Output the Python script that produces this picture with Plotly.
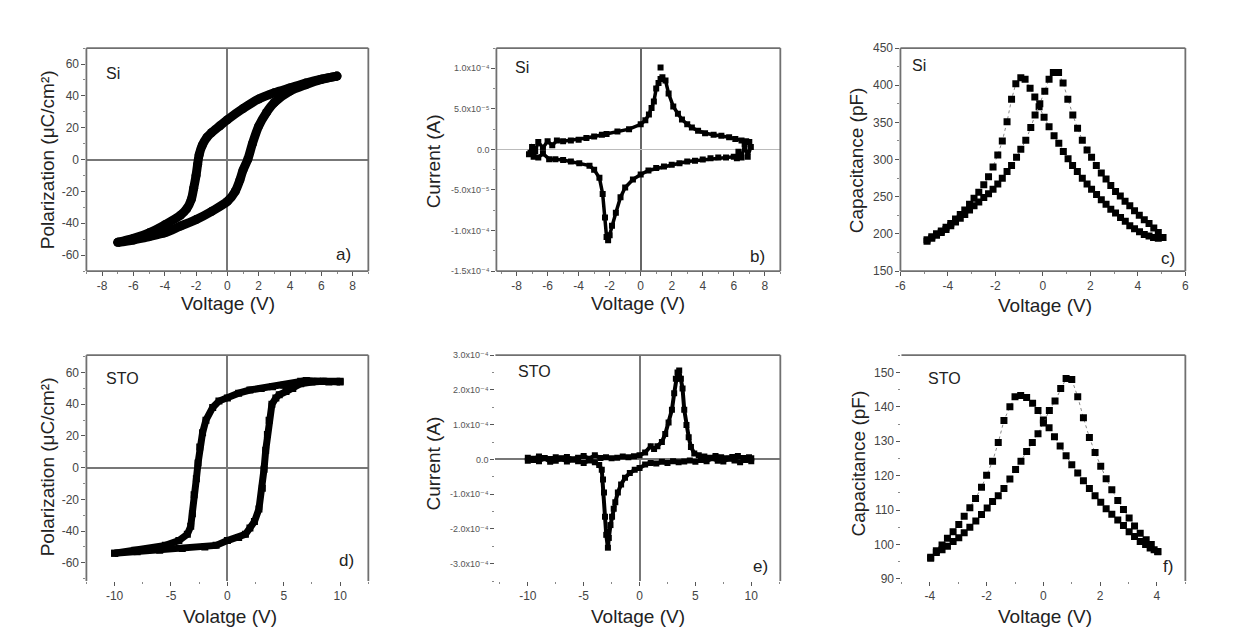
import plotly.graph_objects as go

W, H = 1238, 634
FONT = "Liberation Sans, Arial, DejaVu Sans, sans-serif"

# ---------------- data ----------------
# (a) Si polarization loop
a_down_v = [7.0, 6.0, 5.0, 4.0, 3.0, 2.0, 1.0, 0.0, -0.5, -1.0, -1.3, -1.6, -1.8, -1.9, -2.0, -2.15, -2.3, -2.6, -3.0, -4.0, -5.0, -6.0, -7.0]
a_down_p = [52.4, 50.5, 48, 45, 42, 38, 32, 25, 21, 17, 14, 9, 3, -3, -10, -18, -25, -31, -35, -41, -46, -49.5, -52]
a_up_v = [-7.0, -6.0, -5.0, -4.0, -3.0, -2.0, -1.0, 0.0, 0.5, 0.8, 1.0, 1.3, 1.6, 2.0, 2.5, 3.0, 4.0, 5.0, 6.0, 7.0]
a_up_p = [-52, -50.5, -48.4, -46, -41.8, -37.7, -32.5, -26.3, -20, -12.8, -6.6, 0, 10, 21, 29.6, 35.8, 43, 47, 50.3, 52.4]

# (b) Si current (units of 1e-5 A)
b_up_v = [-7.2, -7.0, -6.8, -6.6, -6.3, -6.0, -5.7, -5.4, -5.0, -4.5, -4.0, -3.5, -3.0, -2.5, -2.2, -1.5, -0.75, 0.0, 0.3,
          0.53, 0.7, 0.85, 1.0, 1.15, 1.28, 1.4, 1.6, 1.8, 2.1, 2.4, 2.66, 3.0, 3.3, 3.7, 4.15, 4.7, 5.2, 5.7, 6.1, 6.5, 6.8, 7.0]
b_up_i = [-0.6, 0.3, -0.2, 0.9, 0.2, 1.0, 0.5, 1.1, 1.0, 1.1, 1.2, 1.4, 1.6, 1.8, 1.9, 2.2, 2.5, 3.1, 3.6,
          4.3, 5.1, 5.9, 7.5, 8.2, 8.7, 8.9, 8.5, 6.9, 5.3, 4.4, 3.7, 3.1, 2.7, 2.3, 2.0, 1.8, 1.7, 1.5, 1.3, 1.1, 1.0, 0.9]
b_down_v = [7.1, 6.9, 6.7, 6.5, 6.3, 6.2, 6.0, 5.5, 5.0, 4.5, 4.0, 3.5, 3.0, 2.5, 2.0, 1.5, 1.0, 0.5, 0.0, -0.5, -1.0,
            -1.3, -1.6, -1.85, -2.0, -2.1, -2.2, -2.3, -2.45, -2.66, -3.0, -3.3, -3.96, -4.5, -5.0, -5.5, -5.9, -6.3, -6.6, -6.9, -7.1]
b_down_i = [0.3, -0.9, 0.6, -1.0, -0.3, -1.1, -0.9, -1.0, -1.0, -1.1, -1.25, -1.4, -1.5, -1.7, -1.9, -2.1, -2.3, -2.6, -3.1, -3.7, -4.7,
            -5.9, -7.8, -9.4, -10.6, -11.2, -10.8, -8.4, -5.5, -3.5, -2.5, -2.0, -1.7, -1.5, -1.3, -1.2, -1.2, -0.5, -1.0, -0.9, -0.4]
b_spike_v = [1.28]
b_spike_i = [10.1]

# (c) Si capacitance (pF)
c_a_v = [-4.88, -4.68, -4.48, -4.28, -4.08, -3.88, -3.68, -3.48, -3.29, -3.09, -2.90, -2.70, -2.49, -2.29, -2.10, -1.90, -1.71,
         -1.51, -1.32, -1.14, -0.93, -0.75, -0.54, -0.34, -0.16, 0.05, 0.26, 0.47, 0.67, 0.86, 1.06, 1.25, 1.45, 1.66, 1.86,
         2.05, 2.26, 2.46, 2.66, 2.86, 3.06, 3.27, 3.47, 3.66, 3.86, 4.07, 4.27, 4.47, 4.66, 4.86]
c_a_c = [192, 196, 200, 204, 209, 214, 220, 226, 232, 240, 248, 256, 266, 277, 290, 306, 325,
         351, 381, 402, 410, 408, 396, 384, 371, 357, 344, 332, 322, 311, 301, 292, 284, 275, 267,
         260, 253, 246, 240, 233, 228, 222, 217, 211, 207, 203, 199, 197, 195, 194]
c_b_v = [-4.88, -4.68, -4.48, -4.28, -4.08, -3.88, -3.68, -3.48, -3.29, -3.09, -2.90, -2.70, -2.49, -2.29, -2.10, -1.90, -1.71,
         -1.51, -1.32, -1.11, -0.93, -0.72, -0.51, -0.33, -0.13, 0.08, 0.26, 0.44, 0.66, 0.85, 1.05, 1.26, 1.46, 1.66, 1.86,
         2.05, 2.25, 2.46, 2.66, 2.86, 3.06, 3.26, 3.46, 3.66, 3.86, 4.06, 4.27, 4.47, 4.67, 4.86, 5.06]
c_b_c = [190, 194, 198, 202, 206, 211, 216, 221, 226, 232, 238, 243, 249, 254, 260, 267, 275,
         284, 292, 303, 314, 326, 343, 360, 375, 392, 408, 417, 417, 403, 381, 360, 342, 326, 313,
         303, 292, 282, 274, 265, 257, 251, 244, 238, 231, 225, 219, 214, 208, 202, 195]

# (d) STO polarization loop
d_down_v = [10, 9, 8, 7, 6.5, 6, 5, 4, 3, 2, 1, 0, -0.75, -1.3, -1.9, -2.2, -2.45, -2.6, -2.75, -2.95, -3.1, -3.25, -3.55,
            -4.3, -5.5, -7, -8.2, -10]
d_down_p = [54.5, 54, 54.5, 55, 54.5, 53, 52, 51, 50, 49, 47, 44, 42, 38, 30, 22, 13, 3, -7, -17, -29, -37, -42,
            -46, -49, -51, -52, -54]
d_up_v = [-10, -8, -6, -4, -2, -1, 0, 1, 1.6, 2.0, 2.4, 2.8, 3.1, 3.25, 3.4, 3.55, 3.7, 3.95, 4.3, 4.6, 5.2, 5.8, 6.5,
          7.5, 8.5, 10]
d_up_p = [-54, -53, -52, -51, -50, -49, -46, -44, -42, -38, -34, -26, -13, -1, 11, 21, 30, 40, 44, 46, 48, 50, 53,
          54, 54.5, 54]

# (e) STO current (units of 1e-4 A)
e_up_v = [-10, -9.5, -9, -8.5, -8, -7.5, -7, -6.5, -6, -5.5, -5, -4.5, -4, -3.5, -3, -2.5, -2, -1.5, -1, -0.5, 0, 0.5,
          1.0, 1.3, 1.6, 2.0, 2.3, 2.6, 2.9, 3.1, 3.25, 3.4, 3.55, 3.7, 3.85, 4.0, 4.2, 4.4, 4.6, 4.9, 5.3, 5.8, 6.3,
          6.8, 7.3, 7.8, 8.3, 8.8, 9.3, 9.8, 10]
e_up_i = [0.05, 0.02, 0.08, 0.04, 0.01, 0.06, 0.03, 0.07, 0.0, 0.05, 0.1, 0.02, 0.12, 0.04, 0.06, 0.03, 0.05, 0.08,
          0.06, 0.09, 0.12, 0.2, 0.38, 0.3, 0.38, 0.5, 0.73, 1.06, 1.43, 1.9, 2.32, 2.5, 2.56, 2.32, 2.04, 1.43, 0.99,
          0.64, 0.36, 0.17, 0.12, 0.08, 0.05, 0.1, 0.06, 0.03, 0.07, 0.1, 0.04, 0.06, 0.03]
e_down_v = [10, 9.5, 9, 8.5, 8, 7.5, 7, 6.5, 6, 5.5, 5, 4.5, 4, 3.5, 3, 2.5, 2, 1.5, 1, 0.5, 0, -0.43, -0.87, -1.3,
            -1.65, -1.94, -2.17, -2.31, -2.46, -2.6, -2.75, -2.83, -2.98, -3.09, -3.18, -3.27, -3.38, -3.61, -4,
            -4.5, -5, -5.5, -6, -6.5, -7, -7.5, -8, -8.5, -9, -9.5, -10]
e_down_i = [-0.05, -0.02, -0.08, -0.03, 0.02, -0.06, -0.04, 0.03, -0.05, -0.02, -0.07, -0.03, -0.06, -0.08, -0.05,
            -0.1, -0.07, -0.12, -0.1, -0.15, -0.25, -0.3, -0.39, -0.53, -0.72, -0.95, -1.23, -1.42, -1.65, -1.89,
            -2.26, -2.54, -2.17, -1.65, -0.95, -0.58, -0.3, -0.16, -0.08, -0.03, -0.1, -0.05, 0.0, -0.06, 0.02,
            -0.04, -0.07, 0.03, -0.05, -0.02, -0.04]

# (f) STO capacitance (pF)
f_a_v = [-3.97, -3.77, -3.57, -3.38, -3.18, -2.98, -2.79, -2.59, -2.39, -2.18, -2.0, -1.79, -1.59, -1.39, -1.18, -1.0,
         -0.80, -0.59, -0.38, -0.19, 0.0, 0.2, 0.39, 0.59, 0.80, 1.0, 1.21, 1.41, 1.62, 1.82, 2.02, 2.21, 2.41, 2.62,
         2.82, 3.02, 3.21, 3.41, 3.6, 3.76, 3.9, 4.03]
f_a_c = [96.3, 98.2, 99.9, 101.8, 103.7, 105.8, 108.2, 110.7, 113.4, 116.6, 120.1, 124.2, 129.6, 136, 140, 142.9,
         143.3, 142.7, 141, 138.9, 136.2, 133.9, 131.3, 128.6, 125.8, 123.2, 120.8, 118.5, 116.3, 114.2, 112.3, 110.4,
         108.8, 107.1, 105.5, 103.7, 102.3, 100.9, 100, 99, 98.5, 97.9]
f_b_v = [-3.97, -3.77, -3.57, -3.38, -3.18, -2.98, -2.79, -2.59, -2.38, -2.18, -1.98, -1.79, -1.59, -1.39, -1.18, -0.98,
         -0.79, -0.59, -0.39, -0.19, 0.0, 0.21, 0.41, 0.61, 0.8, 1.0, 1.21, 1.41, 1.62, 1.82, 2.02, 2.21, 2.41, 2.62,
         2.82, 3.02, 3.21, 3.41, 3.62, 3.8, 4.03]
f_b_c = [96, 97.7, 98.5, 99.5, 100.9, 102, 103.4, 105, 106.8, 108.7, 110.6, 112.5, 114.2, 116.3, 119, 121.8,
         124.2, 127, 129.6, 132.2, 135.3, 138.9, 141.7, 145.3, 148.2, 147.9, 142.9, 136.8, 131.1, 126.7, 122.7, 119.1,
         115.9, 112.8, 110.2, 107.7, 105.4, 103.3, 101.4, 100, 98]

# tick values / labels
a_xticks = [-8, -6, -4, -2, 0, 2, 4, 6, 8]
a_yticks = [-60, -40, -20, 0, 20, 40, 60]
b_xticks = [-8, -6, -4, -2, 0, 2, 4, 6, 8]
b_yticks = [-1.5e-4, -1.0e-4, -5.0e-5, 0.0, 5.0e-5, 1.0e-4]
b_ylabels = ["-1.5x10\u207b\u2074", "-1.0x10\u207b\u2074", "-5.0x10\u207b\u2075", "0.0",
             "5.0x10\u207b\u2075", "1.0x10\u207b\u2074"]
c_xticks = [-6, -4, -2, 0, 2, 4, 6]
c_yticks = [150, 200, 250, 300, 350, 400, 450]
d_xticks = [-10, -5, 0, 5, 10]
d_yticks = [-60, -40, -20, 0, 20, 40, 60]
e_xticks = [-10, -5, 0, 5, 10]
e_yticks = [-3e-4, -2e-4, -1e-4, 0.0, 1e-4, 2e-4, 3e-4]
e_ylabels = ["-3.0x10\u207b\u2074", "-2.0x10\u207b\u2074", "-1.0x10\u207b\u2074", "0.0",
             "1.0x10\u207b\u2074", "2.0x10\u207b\u2074", "3.0x10\u207b\u2074"]
f_xticks = [-4, -2, 0, 2, 4]
f_yticks = [90, 100, 110, 120, 130, 140, 150]

# ---------------- figure ----------------
fig = go.Figure()


def ax_name(n, kind):
    return kind if n == 1 else f"{kind}{n}"


def thick_loop(n, v, p, width, msize, symbol, shape):
    fig.add_trace(go.Scatter(x=v, y=p, mode="lines+markers",
                             line=dict(color="black", width=width, shape=shape, smoothing=0.8),
                             marker=dict(color="black", size=msize, symbol=symbol),
                             xaxis=ax_name(n, "x"), yaxis=ax_name(n, "y"), hoverinfo="skip"))


def scatter_curve(n, v, y, scale, msize, lw, dash, lcolor):
    fig.add_trace(go.Scatter(x=v, y=[k * scale for k in y], mode="lines+markers",
                             line=dict(color=lcolor, width=lw, dash=dash),
                             marker=dict(color="black", size=msize, symbol="square"),
                             xaxis=ax_name(n, "x"), yaxis=ax_name(n, "y"), hoverinfo="skip"))


# a
thick_loop(1, a_down_v, a_down_p, 9, 9, "circle", "spline")
thick_loop(1, a_up_v, a_up_p, 9, 9, "circle", "spline")
# b
scatter_curve(2, b_up_v, b_up_i, 1e-5, 6, 3.5, "solid", "black")
scatter_curve(2, b_down_v, b_down_i, 1e-5, 6, 3.5, "solid", "black")
scatter_curve(2, b_spike_v, b_spike_i, 1e-5, 6, 1, "solid", "black")
# c
scatter_curve(3, c_a_v, c_a_c, 1, 7, 1, "dot", "#888")
scatter_curve(3, c_b_v, c_b_c, 1, 7, 1, "dot", "#888")
# d
thick_loop(4, d_down_v, d_down_p, 7, 7, "square", "linear")
thick_loop(4, d_up_v, d_up_p, 7, 7, "square", "linear")
# e
scatter_curve(5, e_up_v, e_up_i, 1e-4, 6, 4, "solid", "black")
scatter_curve(5, e_down_v, e_down_i, 1e-4, 6, 4, "solid", "black")
# f
scatter_curve(6, f_a_v, f_a_c, 1, 7, 1, "dot", "#888")
scatter_curve(6, f_b_v, f_b_c, 1, 7, 1, "dot", "#888")


def fmt(v):
    return str(v)


def axis(dom, rng, tickvals, ticktext, minor_dtick, anchor, fsize, tcolor, zl=False, zlcolor="#777", zlwidth=1.5):
    return dict(domain=dom, range=rng, anchor=anchor, tickmode="array", tickvals=tickvals, ticktext=ticktext,
                ticks="outside", ticklen=4, tickwidth=1.2, tickcolor="#555",
                minor=dict(ticks="outside", ticklen=2, tickwidth=1, tickcolor="#888", dtick=minor_dtick, tick0=0),
                showline=False, showgrid=False, zeroline=zl, zerolinecolor=zlcolor, zerolinewidth=zlwidth,
                tickfont=dict(family=FONT, size=fsize, color=tcolor), fixedrange=True)


def xd(l, r):
    return [l / W, r / W]


def yd(t, b):
    return [1 - b / H, 1 - t / H]


R1 = yd(42, 270)
R2 = yd(356, 587)

layout_axes = dict(
    xaxis=axis(xd(82, 366), [-9, 9], a_xticks, [fmt(v) for v in a_xticks], 1, "y", 12, "#444", True),
    yaxis=axis(R1, [-70, 70], a_yticks, [fmt(v) for v in a_yticks], 10, "x", 12, "#444", True),
    xaxis2=axis(xd(495, 781), [-9.3, 9.0], b_xticks, [fmt(v) for v in b_xticks], 1, "y2", 12, "#444", True, "#666"),
    yaxis2=axis(R1, [-1.5e-4, 1.25e-4], b_yticks, b_ylabels, 2.5e-5, "x2", 9, "#555", True, "#bbb", 1.2),
    xaxis3=axis(xd(902, 1189), [-6, 6], c_xticks, [fmt(v) for v in c_xticks], 1, "y3", 12, "#444"),
    yaxis3=axis(R1, [150, 450], c_yticks, [fmt(v) for v in c_yticks], 25, "x3", 12, "#444"),
    xaxis4=axis(xd(82, 366), [-12.5, 12.5], d_xticks, [fmt(v) for v in d_xticks], 2.5, "y4", 12, "#444", True),
    yaxis4=axis(R2, [-71.5, 71], d_yticks, [fmt(v) for v in d_yticks], 10, "x4", 12, "#444", True),
    xaxis5=axis(xd(494, 781), [-12.9, 12.6], e_xticks, [fmt(v) for v in e_xticks], 2.5, "y5", 12, "#444", True),
    yaxis5=axis(R2, [-3.5e-4, 3.0e-4], e_yticks, e_ylabels, 5e-5, "x5", 9, "#555", True, "#777", 1.5),
    xaxis6=axis(xd(903, 1189), [-5, 5], f_xticks, [fmt(v) for v in f_xticks], 1, "y6", 12, "#444"),
    yaxis6=axis(R2, [89.4, 155], f_yticks, [fmt(v) for v in f_yticks], 5, "x6", 12, "#444"),
)

# frame lines (some sides are missing in the original scan)
frames = {1: ("left", "bottom", "top", "right"),
          2: ("left", "bottom", "top", "right"),
          3: ("left", "bottom", "top", "right"),
          4: ("left", "top", "right"),
          5: ("top", "right"),
          6: ("top", "right")}
shapes = []
for n, sides in frames.items():
    xr = ax_name(n, "x") + " domain"
    yr = ax_name(n, "y") + " domain"
    for s in sides:
        if s == "left":
            c = (0, 0, 0, 1)
        elif s == "right":
            c = (1, 1, 0, 1)
        elif s == "top":
            c = (0, 1, 1, 1)
        else:
            c = (0, 1, 0, 0)
        shapes.append(dict(type="line", xref=xr, yref=yr, x0=c[0], x1=c[1], y0=c[2], y1=c[3],
                           line=dict(color="#707070", width=1.8)))

# annotations
ann = []


def txt(text, px, py, size, xanchor="center", yanchor="middle", angle=0, color="#222"):
    ann.append(dict(text=text, x=px / W, y=1 - py / H, xref="paper", yref="paper", showarrow=False,
                    xanchor=xanchor, yanchor=yanchor, textangle=angle,
                    font=dict(family=FONT, size=size, color=color)))


# panel material labels
txt("Si", 100, 68, 16, "left")
txt("Si", 512, 62, 16, "left")
txt("Si", 912, 60, 16, "left")
txt("STO", 100, 380, 16, "left")
txt("STO", 515, 373, 16, "left")
txt("STO", 928, 380, 16, "left")
# panel letters
txt("a)", 351, 253, 17, "right")
txt("b)", 768, 255, 17, "right")
txt("c)", 1181, 257, 17, "right")
txt("d)", 354, 566, 17, "right")
txt("e)", 771, 572, 17, "right")
txt("f)", 1179, 572, 17, "right")
# axis titles
txt("Polarization (\u03bcC/cm\u00b2)", 43, 156, 19, angle=-90)
txt("Current (A)", 432, 158, 19, angle=-90)
txt("Capacitance (pF)", 858, 157, 19, angle=-90)
txt("Polarization (\u03bcC/cm\u00b2)", 43, 470, 19, angle=-90)
txt("Current (A)", 432, 467, 19, angle=-90)
txt("Capacitance (pF)", 860, 467, 19, angle=-90)
txt("Voltage (V)", 225, 303, 19)
txt("Voltage (V)", 638, 303, 19)
txt("Voltage (V)", 1048, 305, 19)
txt("Volatge (V)", 227, 623, 19)
txt("Voltage (V)", 638, 623, 19)
txt("Voltage (V)", 1048, 623, 19)

fig.update_layout(width=W, height=H, margin=dict(l=0, r=0, t=0, b=0),
                  paper_bgcolor="white", plot_bgcolor="white", showlegend=False,
                  shapes=shapes, annotations=ann, font=dict(family=FONT), **layout_axes)

fig.write_html("out.html", config={"displayModeBar": False},
               post_script="document.body.style.margin='0px';document.body.style.overflow='hidden';")
